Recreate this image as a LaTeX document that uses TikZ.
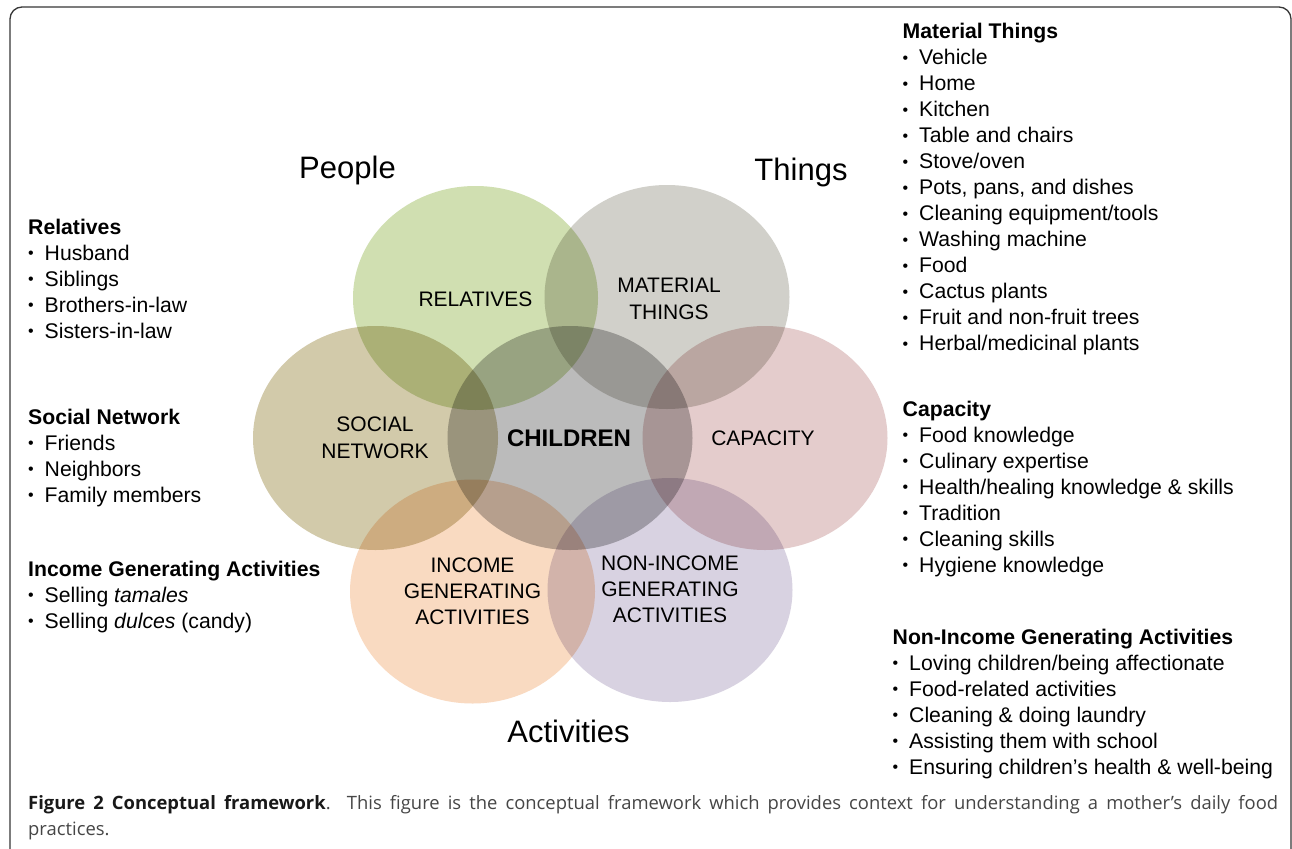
\documentclass[tikz,border=0pt]{standalone}
\usepackage{fontspec}
\setmainfont{Liberation Sans}
\newfontfamily\capfont{Open Sans}
\usetikzlibrary{shapes.geometric}

% fill colours of the seven ellipses
\definecolor{relfill}{RGB}{208,223,177}
\definecolor{matfill}{RGB}{209,208,202}
\definecolor{chifill}{RGB}{187,187,187}
\definecolor{socfill}{RGB}{210,202,170}
\definecolor{capfill}{RGB}{228,204,204}
\definecolor{incfill}{RGB}{249,218,193}
\definecolor{nonfill}{RGB}{216,210,225}
\definecolor{framecol}{RGB}{55,55,55}
\definecolor{captext}{RGB}{70,70,70}

% one bulleted line of a side list
\newcommand{\bitem}[1]{\makebox[16.5pt][l]{\raisebox{1.6pt}{\fontsize{16}{16}\selectfont\textbullet}}#1}

\begin{document}
\begin{tikzpicture}[x=1pt,y=-1pt,
  venn/.style={ellipse, minimum width=245pt, minimum height=224pt,
               inner sep=0pt, draw=none, blend mode=multiply},
  vlabel/.style={font=\fontsize{21}{26.5}\selectfont, align=center, inner sep=0pt},
  title/.style={font=\fontsize{31}{36}\selectfont, anchor=base, inner sep=0pt},
  sidelist/.style={anchor=base west, inner sep=0pt,
                   font=\fontsize{21.2}{26}\selectfont}]

\useasboundingbox (0,0) rectangle (1292,848);
\clip (0,0) rectangle (1292,848);
\fill[white] (0,0) rectangle (1292,848);

% outer frame
\draw[framecol, line width=1.3pt, rounded corners=12pt] (10,7) rectangle (1291,862);

% the seven overlapping ellipses
\node[venn, fill=relfill] (erel) at (475.5,298) {};
\node[venn, fill=matfill] (emat) at (667,297) {};
\node[venn, fill=socfill] (esoc) at (375.5,438) {};
\node[venn, fill=chifill] (echi) at (570,438) {};
\node[venn, fill=capfill] (ecap) at (765,438) {};
\node[venn, fill=incfill] (einc) at (472.5,591.5) {};
\node[venn, fill=nonfill] (enon) at (670,590) {};

% ellipse labels
\node[vlabel] (lrel) at (475.5,299) {RELATIVES};
\node[vlabel] (lmat) at (669,299) {MATERIAL\\THINGS};
\node[vlabel] (lsoc) at (375,438) {SOCIAL\\NETWORK};
\node[vlabel, font=\bfseries\fontsize{24}{28}\selectfont] (lchi) at (569,438) {CHILDREN};
\node[vlabel] (lcap) at (763,438.5) {CAPACITY};
\node[vlabel, font=\fontsize{21}{25.8}\selectfont] (linc) at (472.5,591) {INCOME\\GENERATING\\ACTIVITIES};
\node[vlabel, font=\fontsize{21}{25.8}\selectfont] (lnon) at (670,589.3) {NON-INCOME\\GENERATING\\ACTIVITIES};

% group titles
\node[title] (tpeople) at (347.5,178.3) {People};
\node[title] (tthings) at (801,180.5) {Things};
\node[title] (tact) at (568.5,742) {Activities};

% side lists, left
\node[sidelist] (srel) at (28,234) {\parbox[t]{300pt}{\raggedright
  \textbf{Relatives}\\
  \bitem{Husband}\\
  \bitem{Siblings}\\
  \bitem{Brothers-in-law}\\
  \bitem{Sisters-in-law}}};

\node[sidelist] (ssoc) at (28,424) {\parbox[t]{300pt}{\raggedright
  \textbf{Social Network}\\
  \bitem{Friends}\\
  \bitem{Neighbors}\\
  \bitem{Family members}}};

\node[sidelist] (sinc) at (28,576) {\parbox[t]{320pt}{\raggedright
  \textbf{Income Generating Activities}\\
  \bitem{Selling \textit{tamales}}\\
  \bitem{Selling \textit{dulces} (candy)}}};

% side lists, right
\node[sidelist] (smat) at (902.5,39) {\parbox[t]{380pt}{\raggedright
  \textbf{Material Things}\\
  \bitem{Vehicle}\\
  \bitem{Home}\\
  \bitem{Kitchen}\\
  \bitem{Table and chairs}\\
  \bitem{Stove/oven}\\
  \bitem{Pots, pans, and dishes}\\
  \bitem{Cleaning equipment/tools}\\
  \bitem{Washing machine}\\
  \bitem{Food}\\
  \bitem{Cactus plants}\\
  \bitem{Fruit and non-fruit trees}\\
  \bitem{Herbal/medicinal plants}}};

\node[sidelist] (scap) at (902.5,416) {\parbox[t]{380pt}{\raggedright
  \textbf{Capacity}\\
  \bitem{Food knowledge}\\
  \bitem{Culinary expertise}\\
  \bitem{Health/healing knowledge \& skills}\\
  \bitem{Tradition}\\
  \bitem{Cleaning skills}\\
  \bitem{Hygiene knowledge}}};

\node[sidelist] (snon) at (892.5,644) {\parbox[t]{395pt}{\raggedright
  \textbf{Non-Income Generating Activities}\\
  \bitem{Loving children/being affectionate}\\
  \bitem{Food-related activities}\\
  \bitem{Cleaning \& doing laundry}\\
  \bitem{Assisting them with school}\\
  \bitem{Ensuring children’s health \& well-being}}};

% caption: first line spread to the full width, second line flush left
\node[anchor=base west, inner sep=0pt, text=captext,
      font=\capfont\fontsize{18.4}{26}\selectfont] (caption) at (28,809)
  {\parbox[t]{1250pt}{\leavevmode\makebox[1250pt][s]{\textcolor{black!90}{\textbf{Figure 2 Conceptual framework}}.
   This figure is the conceptual framework which provides context for
   understanding a mother’s daily food}\\
   practices.}};
\end{tikzpicture}
\end{document}
